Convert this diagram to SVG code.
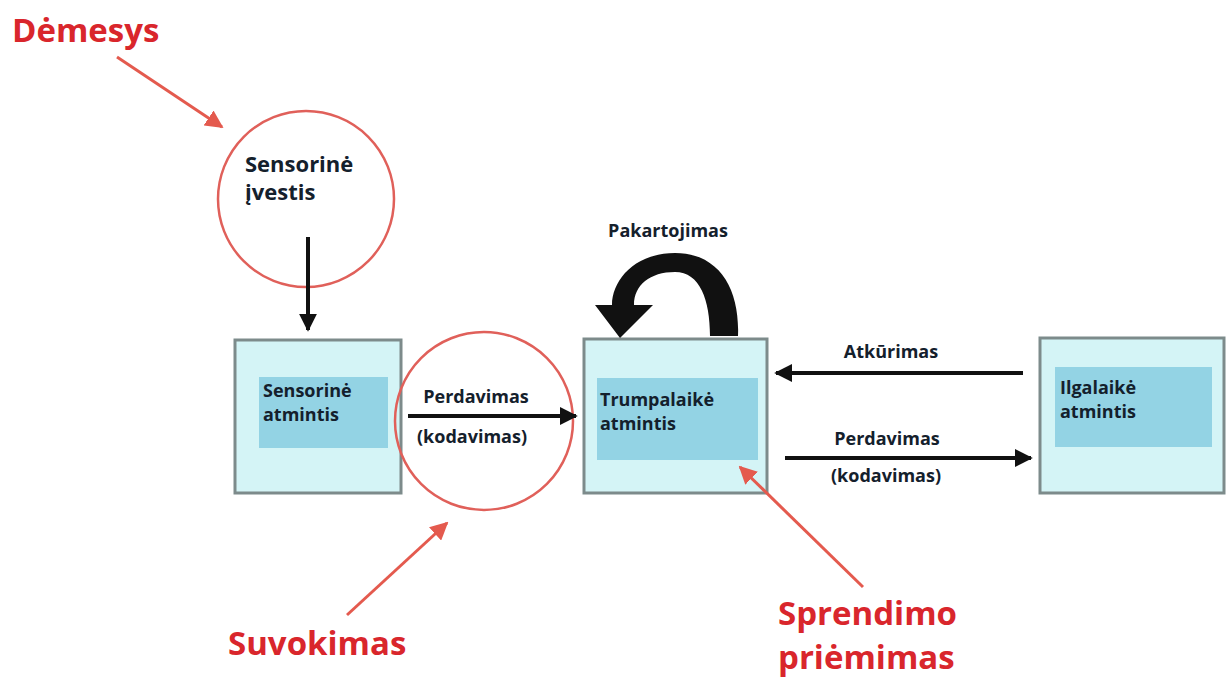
<svg xmlns="http://www.w3.org/2000/svg" width="1232" height="677" viewBox="0 0 1232 677">
<style>
.outer{fill:#d4f4f6;stroke:#7d8b8b;stroke-width:3}
.inner{fill:#93d3e4}
.lbl{font-family:"Open Sans","Liberation Sans",sans-serif;font-weight:bold;font-size:18px;fill:#14202c}
.big{font-size:22px}
.red{font-family:"Open Sans","Liberation Sans",sans-serif;font-weight:bold;font-size:33px;fill:#d9262c}
.ring{fill:none;stroke:#e0605a;stroke-width:2.5}
.rarrow{stroke:#e45a4e;stroke-width:3;fill:none;marker-end:url(#rhead)}
.barrow{stroke:#111;stroke-width:4;fill:none;marker-end:url(#bhead)}
</style>
<defs>
<marker id="rhead" viewBox="0 0 10 10" refX="9" refY="5" markerWidth="6" markerHeight="6" markerUnits="strokeWidth" orient="auto"><path d="M0,0 L10,5 L0,10 Z" fill="#e45a4e"/></marker>
<marker id="bhead" viewBox="0 0 10 10" refX="9" refY="5" markerWidth="4.5" markerHeight="4.5" markerUnits="strokeWidth" orient="auto"><path d="M0,0 L10,5 L0,10 Z" fill="#111"/></marker>
</defs>
<rect width="1232" height="677" fill="#fff"/>

<g id="demesys">
<text class="red" x="12" y="42">Dėmesys</text>
</g>
<g id="sensorine-ivestis">
<circle class="ring" cx="306" cy="199" r="88"/>
<text class="lbl big" x="245" y="172">Sensorinė</text>
<text class="lbl big" x="245" y="200">įvestis</text>
</g>
<g id="sensorine-atmintis">
<rect class="outer" x="235" y="340" width="166" height="153"/>
<rect class="inner" x="259" y="377" width="129" height="71"/>
<text class="lbl" x="263" y="397">Sensorinė</text>
<text class="lbl" x="263" y="421">atmintis</text>
</g>
<g id="suvokimas-ring">
<circle class="ring" cx="484" cy="421" r="89"/>
</g>
<g id="trumpalaike-atmintis">
<rect class="outer" x="584" y="339" width="183" height="154"/>
<rect class="inner" x="597" y="378" width="161" height="82"/>
<text class="lbl" x="600" y="406">Trumpalaikė</text>
<text class="lbl" x="600" y="430">atmintis</text>
</g>
<g id="ilgalaike-atmintis">
<rect class="outer" x="1040" y="338" width="184" height="155"/>
<rect class="inner" x="1055" y="367" width="157" height="80"/>
<text class="lbl" x="1060" y="394">Ilgalaikė</text>
<text class="lbl" x="1060" y="418">atmintis</text>
</g>
<g id="suvokimas">
<text class="red" x="228" y="655">Suvokimas</text>
</g>
<g id="sprendimo-priemimas">
<text class="red" x="778" y="625">Sprendimo</text>
<text class="red" x="778" y="669">priėmimas</text>
</g>

<g id="connectors">
<line class="rarrow" x1="117" y1="57" x2="222" y2="127"/>
<line class="rarrow" x1="347" y1="615" x2="447" y2="523"/>
<line class="rarrow" x1="863" y1="587" x2="740" y2="467"/>
<line class="barrow" x1="308" y1="237" x2="308" y2="330"/>
<line class="barrow" x1="408" y1="416" x2="576" y2="416"/>
<line class="barrow" x1="1023" y1="373" x2="776" y2="373"/>
<line class="barrow" x1="785" y1="458" x2="1031" y2="458"/>
<path d="M738,336 C740,290 720,253 675,253 C635,253 612,280 612,305 L595,305 L620,338 L653,305 L634,305 C634,285 650,272 675,272 C700,272 710,300 710,336 Z" fill="#111"/>
<text class="lbl" x="668" y="237" text-anchor="middle">Pakartojimas</text>
<text class="lbl" x="476" y="403" text-anchor="middle">Perdavimas</text>
<text class="lbl" x="472" y="443" text-anchor="middle">(kodavimas)</text>
<text class="lbl" x="891" y="358" text-anchor="middle">Atkūrimas</text>
<text class="lbl" x="887" y="445" text-anchor="middle">Perdavimas</text>
<text class="lbl" x="886" y="482" text-anchor="middle">(kodavimas)</text>
</g>
</svg>
